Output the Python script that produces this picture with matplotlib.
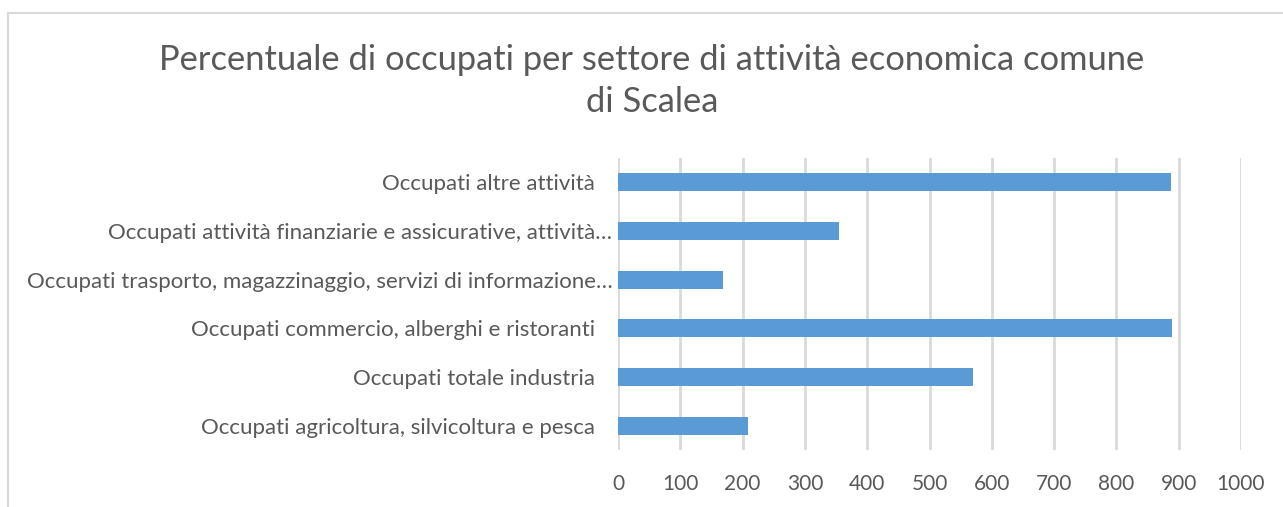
import matplotlib
matplotlib.use("Agg")
import matplotlib.pyplot as plt
from matplotlib.patches import Rectangle

# data (bottom to top)
categories = [
    "Occupati agricoltura, silvicoltura e pesca   ",
    "Occupati totale industria   ",
    "Occupati commercio, alberghi e ristoranti   ",
    "Occupati trasporto, magazzinaggio, servizi di informazione…",
    "Occupati attività finanziarie e assicurative, attività…",
    "Occupati altre attività   ",
]
values = [208, 570, 889, 169, 354, 887]
xticks = [0, 100, 200, 300, 400, 500, 600, 700, 800, 900, 1000]

plt.rcParams['font.family'] = ['Lato', 'DejaVu Sans']
txt = '#595959'

fig = plt.figure(figsize=(12.83, 5.07), dpi=100)
ax = fig.add_axes([618/1283, 1-450/507, (1241-618)/1283, (450-158)/507])

ax.barh(range(len(categories)), values, height=0.37, color='#5B9BD5', zorder=3)
ax.set_ylim(-0.5, len(categories) - 0.5)
ax.set_xlim(0, 1000)
ax.set_xticks(xticks)
ax.set_yticks(range(len(categories)))
ax.set_yticklabels(categories)
ax.grid(axis='x', color='#D9D9D9', linewidth=2, zorder=0)
ax.tick_params(axis='y', length=0, labelsize=16, colors=txt, pad=4)
ax.tick_params(axis='x', length=0, labelsize=15, colors=txt, pad=17)
for s in ax.spines.values():
    s.set_visible(False)

fig.text(652/1283, 1-60/507, "Percentuale di occupati per settore di attività economica comune",
         ha='center', va='center', fontsize=24.8, color=txt)
fig.text(652/1283, 1-102/507, "di Scalea", ha='center', va='center', fontsize=24.8,
         color=txt)

fig.patches.append(Rectangle((8/1283, -0.05), 1.1, 1-13/507+0.05, transform=fig.transFigure,
                             fill=False, edgecolor='#D9D9D9', linewidth=1.5))

plt.savefig('out.png', dpi=100)
